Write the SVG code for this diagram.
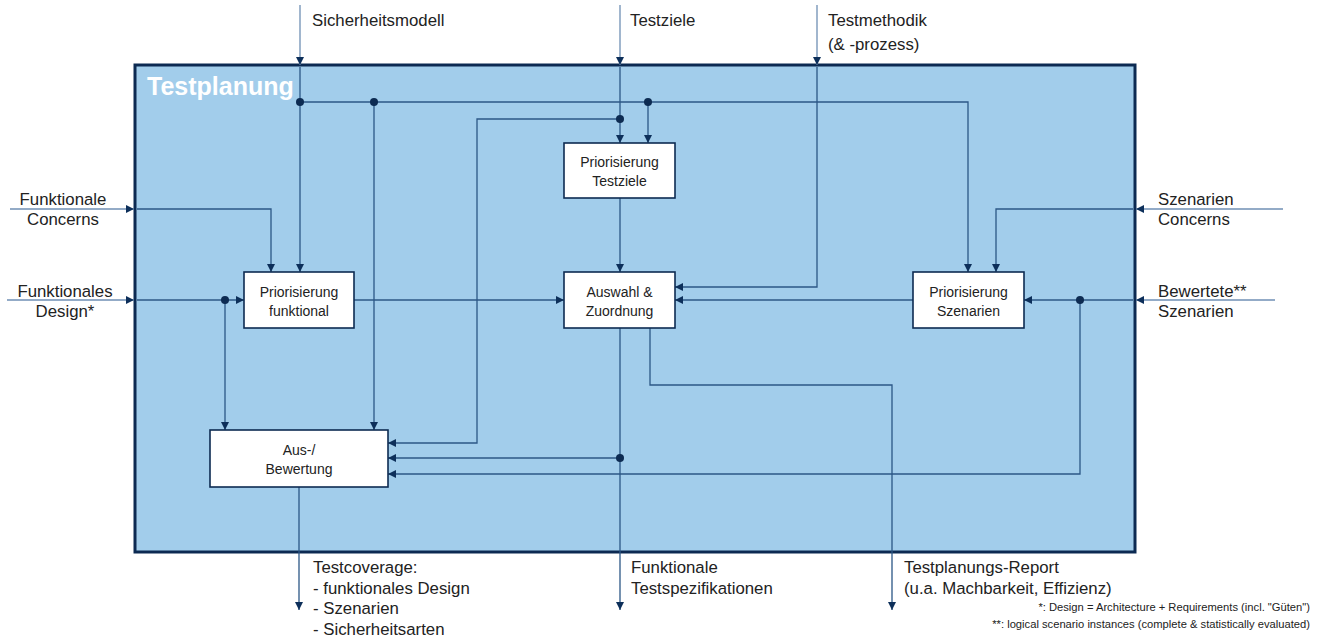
<svg xmlns="http://www.w3.org/2000/svg" width="1324" height="642" viewBox="0 0 1324 642">
<style>
  text { font-family: "Liberation Sans", Arial, sans-serif; fill: #222; }
  .lbl { font-size: 16.8px; }
  .box { fill: #ffffff; stroke: #0d2b52; stroke-width: 1.6; }
  .btxt { font-size: 14px; text-anchor: middle; }
  .ext { fill: none; stroke: #6f8fb4; stroke-width: 1.3; marker-end: url(#arr); }
  .int { fill: none; stroke: #2c5786; stroke-width: 1.3; }
  .a { marker-end: url(#arr); }
  .dot { fill: #0d2b52; }
  .foot { font-size: 11.2px; text-anchor: end; }
</style>
<defs>
  <marker id="arr" markerUnits="userSpaceOnUse" markerWidth="9" markerHeight="9" refX="8" refY="4" orient="auto">
    <path d="M0,0 L8,4 L0,8 z" fill="#0d2f5a"/>
  </marker>
</defs>
<rect width="1324" height="642" fill="#ffffff"/>
<g id="frame">
  <rect x="135" y="65" width="1000" height="487" fill="#a2cdeb" stroke="#0c2a52" stroke-width="3"/>
  <text x="147" y="95" style="font-size:25px;font-weight:bold;fill:#ffffff">Testplanung</text>
</g>
<g id="connectors">
  <path class="ext" d="M300,5 V65"/>
  <path class="ext" d="M620,5 V65"/>
  <path class="ext" d="M817,5 V65"/>
  <path class="ext" d="M10,209 H134"/>
  <path class="ext" d="M7,300 H134"/>
  <path class="ext" d="M1283,209 H1136"/>
  <path class="ext" d="M1275,300 H1136"/>
  <path class="int a" d="M300,67 V272"/>
  <path class="int a" d="M300,102 H968 V272"/>
  <path class="int a" d="M374,102 V430"/>
  <path class="int a" d="M648,102 V143"/>
  <path class="int a" d="M620,67 V143"/>
  <path class="int a" d="M620,119 H477 V443 H388"/>
  <path class="int a" d="M817,67 V287 H675"/>
  <path class="int a" d="M620,198 V272"/>
  <path class="int a" d="M137,209 H271 V272"/>
  <path class="int a" d="M137,300 H244"/>
  <path class="int a" d="M225,300 V430"/>
  <path class="int a" d="M354,300 H564"/>
  <path class="int a" d="M913,300 H675"/>
  <path class="int a" d="M1133,209 H996 V272"/>
  <path class="int a" d="M1133,300 H1024"/>
  <path class="int a" d="M1080,300 V474 H388"/>
  <path class="int a" d="M620,328 V610"/>
  <path class="int a" d="M620,458 H388"/>
  <path class="int a" d="M650,328 V385 H892 V610"/>
  <path class="int a" d="M299,487 V610"/>
  <circle class="dot" cx="300" cy="102" r="4"/>
  <circle class="dot" cx="374" cy="102" r="4"/>
  <circle class="dot" cx="648" cy="102" r="4"/>
  <circle class="dot" cx="620" cy="119" r="4"/>
  <circle class="dot" cx="225" cy="300" r="4"/>
  <circle class="dot" cx="1080" cy="300" r="4"/>
  <circle class="dot" cx="620" cy="458" r="4"/>
</g>
<g id="node-prio-testziele">
  <rect class="box" x="564" y="143" width="111" height="55"/>
  <text class="btxt" x="619.5" y="167">Priorisierung</text>
  <text class="btxt" x="619.5" y="186">Testziele</text>
</g>
<g id="node-auswahl">
  <rect class="box" x="564" y="272" width="111" height="56"/>
  <text class="btxt" x="619.5" y="297">Auswahl &amp;</text>
  <text class="btxt" x="619.5" y="316">Zuordnung</text>
</g>
<g id="node-prio-funktional">
  <rect class="box" x="244" y="272" width="110" height="56"/>
  <text class="btxt" x="299" y="297">Priorisierung</text>
  <text class="btxt" x="299" y="316">funktional</text>
</g>
<g id="node-prio-szenarien">
  <rect class="box" x="913" y="272" width="111" height="56"/>
  <text class="btxt" x="968.5" y="297">Priorisierung</text>
  <text class="btxt" x="968.5" y="316">Szenarien</text>
</g>
<g id="node-bewertung">
  <rect class="box" x="210" y="430" width="178" height="57"/>
  <text class="btxt" x="299" y="455">Aus-/</text>
  <text class="btxt" x="299" y="474">Bewertung</text>
</g>
<g id="labels">
  <text class="lbl" x="312" y="26">Sicherheitsmodell</text>
  <text class="lbl" x="630" y="26">Testziele</text>
  <text class="lbl" x="828" y="26">Testmethodik</text>
  <text class="lbl" x="828" y="50">(&amp; -prozess)</text>
  <text class="lbl" x="63" y="205" text-anchor="middle">Funktionale</text>
  <text class="lbl" x="63" y="225" text-anchor="middle">Concerns</text>
  <text class="lbl" x="65" y="297" text-anchor="middle">Funktionales</text>
  <text class="lbl" x="65" y="317" text-anchor="middle">Design*</text>
  <text class="lbl" x="1158" y="205">Szenarien</text>
  <text class="lbl" x="1158" y="225">Concerns</text>
  <text class="lbl" x="1158" y="297">Bewertete**</text>
  <text class="lbl" x="1158" y="317">Szenarien</text>
  <text class="lbl" x="313" y="573">Testcoverage:</text>
  <text class="lbl" x="313" y="594">- funktionales Design</text>
  <text class="lbl" x="313" y="614">- Szenarien</text>
  <text class="lbl" x="313" y="635">- Sicherheitsarten</text>
  <text class="lbl" x="631" y="573">Funktionale</text>
  <text class="lbl" x="631" y="594">Testspezifikationen</text>
  <text class="lbl" x="904" y="573">Testplanungs-Report</text>
  <text class="lbl" x="904" y="594">(u.a. Machbarkeit, Effizienz)</text>
  <text class="foot" x="1310" y="611">*: Design = Architecture + Requirements  (incl. "Güten")</text>
  <text class="foot" x="1310" y="628">**: logical scenario instances (complete &amp; statistically evaluated)</text>
</g>
</svg>
